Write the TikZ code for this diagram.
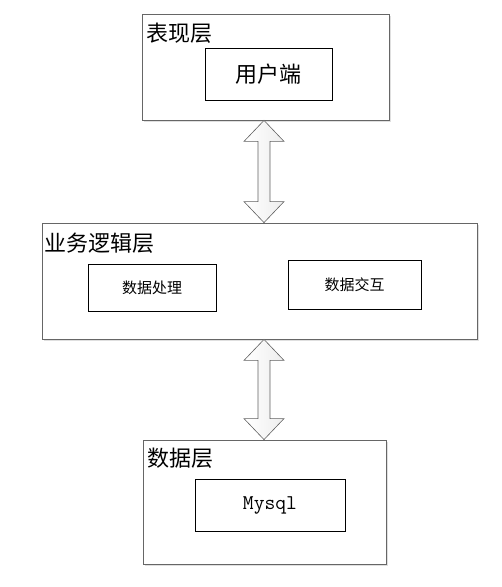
\documentclass[tikz,border=0pt]{standalone}
\usepackage{fontspec}
\newfontfamily\cjk{Noto Sans CJK SC}
\usetikzlibrary{positioning,calc,shadows}

\tikzset{
	layer/.style={draw=gray!80!black,line width=0.8pt,fill=white,
		drop shadow={shadow xshift=1.5pt,shadow yshift=-1.5pt,opacity=0.25}},
	inbox/.style={draw=black,line width=0.8pt,anchor=north west,inner sep=0pt},
	tag/.style={anchor=north west,inner sep=0pt,font=\cjk\fontsize{22}{22}\selectfont},
	updown/.style={draw=gray!75!black,line width=0.6pt,line join=miter,
		left color=white,right color=gray!14},
}
% double arrow between two named points (head 40 wide, 21 long, shaft 12)
\newcommand{\layerarrow}[2]{%
	\path[updown] (#1) -- ($(#1)+(20,21)$) -- ($(#1)+(6,21)$) -- ($(#2)+(6,-21)$)
		-- ($(#2)+(20,-21)$) -- (#2) -- ($(#2)+(-20,-21)$) -- ($(#2)+(-6,-21)$)
		-- ($(#1)+(-6,21)$) -- ($(#1)+(-20,21)$) -- cycle;}

\begin{document}
\begin{tikzpicture}[x=1pt,y=-1pt]
	\useasboundingbox (0,0) rectangle (502,587);
	%% layers
	\node[layer,minimum width=247pt,minimum height=106pt] (pres) at (265.5,67) {};
	\node[layer,minimum width=435pt,minimum height=116pt] (logic) at (259.5,281) {};
	\node[layer,minimum width=243pt,minimum height=124pt] (data) at (264.5,502) {};
	\node[tag,below right=9pt and 5pt of pres.north west] {表现层};
	\node[tag,below right=10pt and 3pt of logic.north west] {业务逻辑层};
	\node[tag,below right=8pt and 5pt of data.north west] {数据层};
	%% inner boxes
	\node[inbox,below right=34pt and 63pt of pres.north west,minimum width=127pt,minimum height=52pt,
		font=\cjk\fontsize{22}{22}\selectfont] (user) {用户端};
	\node[inbox,below right=41pt and 46pt of logic.north west,minimum width=128pt,minimum height=47pt,
		font=\cjk\fontsize{15}{15}\selectfont] (proc) {数据处理};
	\node[inbox,below right=37pt and 246pt of logic.north west,minimum width=133pt,minimum height=49pt,
		font=\cjk\fontsize{15}{15}\selectfont] (inter) {数据交互};
	\node[inbox,below right=39pt and 52pt of data.north west,minimum width=150pt,minimum height=52pt,
		font=\ttfamily\fontsize{21}{21}\selectfont] (mysql) {Mysql};
	% 层间双向箭头
	\coordinate (a1) at ([xshift=-1.5pt]pres.south);
	\coordinate (a2) at (a1 |- logic.north);
	\coordinate (b1) at (a1 |- logic.south);
	\coordinate (b2) at (a1 |- data.north);
	\layerarrow{a1}{a2}
	\layerarrow{b1}{b2}
\end{tikzpicture}
\end{document}
